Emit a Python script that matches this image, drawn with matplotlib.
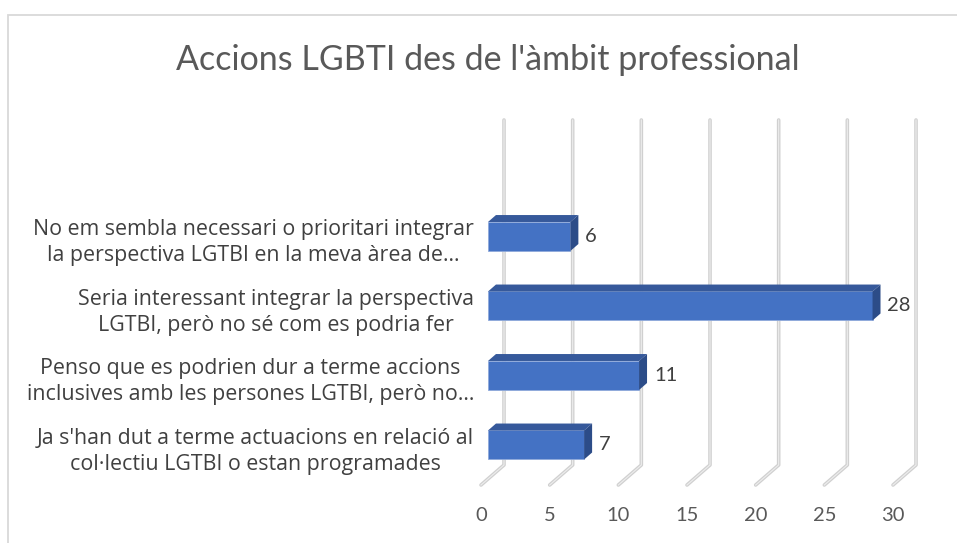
import matplotlib.pyplot as plt
from matplotlib.patches import Polygon, Rectangle

categories = [
    "Ja s'han dut a terme actuacions en relació al\ncol·lectiu LGTBI o estan programades",
    "Penso que es podrien dur a terme accions\ninclusives amb les persones LGTBI, però no…",
    "Seria interessant integrar la perspectiva\nLGTBI, però no sé com es podria fer",
    "No em sembla necessari o prioritari integrar\nla perspectiva LGTBI en la meva àrea de…",
]
values = [7, 11, 28, 6]
ticks = [0, 5, 10, 15, 20, 25, 30]
title = "Accions LGBTI des de l'àmbit professional"

plt.rcParams['font.family'] = ['Lato', 'DejaVu Sans']

W, H = 957, 543
fig = plt.figure(figsize=(W / 100, H / 100), dpi=100)

# axes: x=0 at front floor px 481, x=30 at px 893; y from floor front to wall top
ax = fig.add_axes([481 / W, 58 / H, (893 - 481) / W, (485 - 120) / H])
y0, y1 = -0.576, 4.676
ax.set_xlim(0, 30)
ax.set_ylim(y0, y1)
for s in ax.spines.values():
    s.set_visible(False)
ax.set_yticks([])
ax.set_xticks(ticks)
ax.tick_params(axis='x', length=0, pad=16, labelsize=14.5, labelcolor='#595959')

# depth offsets (wall and bar)
wall_dx, wall_dy = 1.675, 0.288
bar_off, bar_h, bar_dx, bar_dy = 0.51, 0.417, 0.58, 0.10

grid_c = '#D0D0D0'
for t in ticks:
    ax.plot([t, t + wall_dx, t + wall_dx], [y0, y0 + wall_dy, y1],
            color=grid_c, lw=2.6, solid_capstyle='round', zorder=1, clip_on=False)
    ax.plot([t, t + wall_dx, t + wall_dx], [y0, y0 + wall_dy, y1],
            color='#EDEDED', lw=0.8, zorder=1.1, clip_on=False)

front_c, top_c, side_c = '#4472C4', '#36599B', '#2C4C88'
for i, v in enumerate(values):
    xl = bar_off
    xr = bar_off + v
    yb = i - bar_h / 2
    yt = i + bar_h / 2
    ax.add_patch(Rectangle((xl, yb), v, bar_h, fc=front_c, ec='#8EA9DB', lw=0.6, zorder=3))
    ax.add_patch(Polygon([(xl, yt), (xr, yt), (xr + bar_dx, yt + bar_dy), (xl + bar_dx, yt + bar_dy)],
                         closed=True, fc=top_c, ec='none', zorder=3))
    ax.add_patch(Polygon([(xr, yb), (xr + bar_dx, yb + bar_dy), (xr + bar_dx, yt + bar_dy), (xr, yt)],
                         closed=True, fc=side_c, ec='none', zorder=3))
    ax.text(xr + bar_dx + 0.5, i, str(v), ha='left', va='center',
            fontsize=14.5, color='#404040', zorder=4)
    ax.text(-0.5, i - 0.09, categories[i], ha='right', va='center', multialignment='center',
            fontsize=15.4, color='#404040', linespacing=1.34,
            family=['Open Sans', 'DejaVu Sans'])

fig.text(488 / W, 1 - 60 / H, title, ha='center', va='center', fontsize=24.5, color='#595959')

fig.patches.append(Rectangle((8 / W, -0.1), 1.2, 1.1 - 15 / H, transform=fig.transFigure,
                             fill=False, ec='#D9D9D9', lw=1.3))

fig.savefig("out.png", dpi=100)
